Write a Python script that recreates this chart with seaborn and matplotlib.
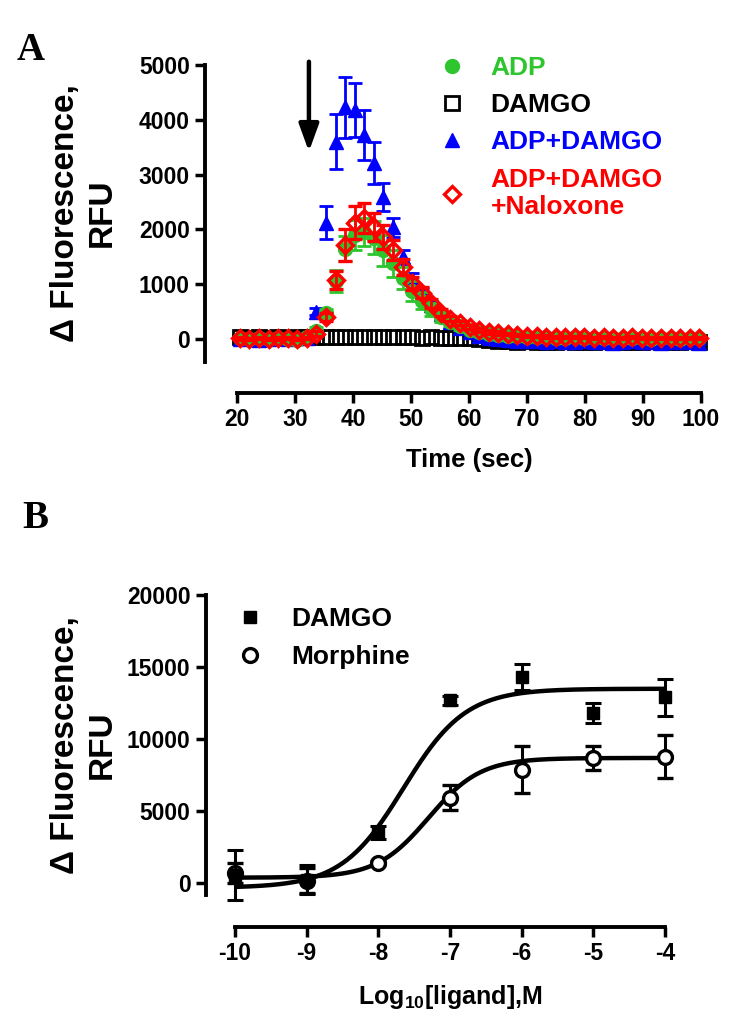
import numpy as np
import matplotlib
matplotlib.use("Agg")
import matplotlib.pyplot as plt
import seaborn as sns
from matplotlib.lines import Line2D

# ---------------- Panel A data (time course) ----------------
time_s = [20.5, 22.15, 23.8, 25.45, 27.1, 28.75, 30.4, 32.05, 33.7, 35.35,
          37.0, 38.65, 40.3, 41.95, 43.6, 45.25, 46.9, 48.55, 50.2, 51.85,
          53.5, 55.15, 56.8, 58.45, 60.1, 61.75, 63.4, 65.05, 66.7, 68.35,
          70.0, 71.65, 73.3, 74.95, 76.6, 78.25, 79.9, 81.55, 83.2, 84.85,
          86.5, 88.15, 89.8, 91.45, 93.1, 94.75, 96.4, 98.05, 99.7]

adp = [10, -5, 15, 0, 20, 5, -10, 30, 150, 470,
       1050, 1650, 1900, 1950, 1850, 1620, 1380, 1120, 880, 700,
       540, 410, 310, 230, 170, 130, 100, 80, 60, 50,
       40, 35, 30, 20, 25, 40, 15, 20, 10, 25,
       15, 10, 20, 5, 15, 10, 5, 10, 15]
adp_err = [20, 20, 20, 20, 20, 20, 20, 20, 60, 80,
           200, 230, 280, 250, 300, 280, 250, 200, 180, 150,
           120, 100, 80, 60, 50, 40, 30, 30, 20, 20,
           20, 20, 20, 20, 20, 20, 20, 20, 20, 20,
           20, 20, 20, 20, 20, 20, 20, 20, 20]

damgo = [30, 20, 35, 25, 30, 20, 35, 30, 40, 45,
         40, 35, 40, 45, 40, 35, 30, 35, 30, 25,
         30, 20, 25, 15, 10, 0, -10, -30, -40, -50,
         -40, -50, -60, -50, -40, -50, -60, -50, -40, -50,
         -50, -60, -50, -40, -50, -60, -50, -40, -50]

adp_damgo = [0, 10, -10, 5, 15, 0, 10, 20, 500, 2120,
             3600, 4230, 4180, 3720, 3210, 2590, 2040, 1500, 1100, 850,
             620, 450, 310, 200, 120, 60, 20, 0, -20, -30,
             -40, -30, -50, -40, -60, -50, -40, -60, -50, -70,
             -50, -40, -60, -50, -70, -60, -50, -60, -70]
adp_damgo_err = [20, 20, 20, 20, 20, 20, 20, 20, 60, 300,
                 500, 560, 500, 460, 380, 260, 170, 130, 100, 80,
                 60, 50, 40, 30, 30, 20, 20, 20, 20, 20,
                 20, 20, 20, 20, 20, 20, 20, 20, 20, 20,
                 20, 20, 20, 20, 20, 20, 20, 20, 20]

adp_damgo_nal = [10, 0, 15, -5, 10, 20, 5, 15, 100, 400,
                 1075, 1715, 2120, 2210, 2040, 1860, 1620, 1310, 1020, 840,
                 650, 480, 370, 290, 220, 165, 130, 110, 90, 70,
                 60, 50, 45, 40, 35, 40, 30, 25, 30, 20,
                 25, 30, 20, 15, 25, 20, 15, 20, 25]
adp_damgo_nal_err = [20, 20, 20, 20, 20, 20, 20, 20, 40, 80,
                     170, 300, 300, 280, 250, 220, 180, 150, 120, 100,
                     80, 60, 50, 40, 30, 30, 30, 30, 20, 20,
                     20, 20, 20, 20, 20, 20, 20, 20, 20, 20,
                     20, 20, 20, 20, 20, 20, 20, 20, 20]

# ---------------- Panel B data (concentration response) ----------------
log_ligand = [-10, -9, -8, -7, -6, -5, -4]
damgo_resp = [560, 250, 3500, 12700, 14300, 11800, 12900]
damgo_resp_err = [1730, 1000, 450, 300, 900, 700, 1300]
morphine_resp = [700, 200, 1400, 5950, 7900, 8700, 8800]
morphine_resp_err = [700, 850, 150, 850, 1600, 850, 1500]

# fitted sigmoid parameters (bottom, top, logEC50, Hill slope)
damgo_fit = (-300, 13500, -7.65, 1.0)
morphine_fit = (400, 8700, -7.3, 1.2)

GREEN = "#2ec52e"
BLUE = "#0000ff"
RED = "#ff0000"
BLACK = "#000000"

sns.set_theme(style="ticks")
plt.rcParams["font.family"] = ["Liberation Sans", "DejaVu Sans"]
plt.rcParams["font.weight"] = "bold"
plt.rcParams["axes.unicode_minus"] = False
plt.rcParams["mathtext.fontset"] = "custom"
plt.rcParams["mathtext.rm"] = "Liberation Sans:bold"
plt.rcParams["mathtext.bf"] = "Liberation Sans:bold"
for key in ["text.color", "axes.labelcolor", "xtick.color", "ytick.color",
            "axes.edgecolor", "xtick.labelcolor", "ytick.labelcolor"]:
    plt.rcParams[key] = "black"

W, H = 750, 1034
fig = plt.figure(figsize=(W / 100, H / 100), dpi=100)


def px_axes(l, t, r, b):
    return fig.add_axes([l / W, 1 - b / H, (r - l) / W, (b - t) / H])


def style_axes(ax, left_off, bottom_off):
    for s in ["top", "right"]:
        ax.spines[s].set_visible(False)
    ax.spines["left"].set_position(("outward", left_off))
    ax.spines["bottom"].set_position(("outward", bottom_off))
    for s in ["left", "bottom"]:
        ax.spines[s].set_linewidth(2.8)
        ax.spines[s].set_color("black")
    ax.tick_params(axis="both", which="major", direction="out", length=7,
                   width=2.5, color="black", labelsize=16.5, pad=4,
                   labelcolor="black")
    for lab in ax.get_xticklabels() + ax.get_yticklabels():
        lab.set_fontweight("bold")
    ax.set_facecolor("white")


# ================= Panel A =================
axA = px_axes(237, 65, 701, 362)

eb_kw = dict(elinewidth=2, capthick=2, capsize=5, ls="none", clip_on=False)
axA.errorbar(time_s, damgo, fmt="s", ms=10, mfc="none", mec=BLACK, mew=2,
             color=BLACK, ls="none", zorder=2, clip_on=False)
axA.errorbar(time_s, adp_damgo, yerr=adp_damgo_err, fmt="^", ms=10,
             color=BLUE, mec=BLUE, zorder=3, **eb_kw)
axA.errorbar(time_s, adp, yerr=adp_err, fmt="o", ms=10, color=GREEN,
             mec=GREEN, zorder=4, **eb_kw)
axA.errorbar(time_s, adp_damgo_nal, yerr=adp_damgo_nal_err, fmt="D", ms=8.5,
             mfc="none", mec=RED, mew=2.4, color=RED, zorder=5, **eb_kw)

axA.set_xlim(20, 100)
axA.set_ylim(-420, 5000)
axA.set_xticks(np.arange(20, 101, 10))
axA.set_yticks(np.arange(0, 5001, 1000))
style_axes(axA, 23, 22.3)

axA.annotate("", xy=(32.4, 3420), xytext=(32.4, 5060),
             arrowprops=dict(arrowstyle="-|>,head_width=0.2,head_length=0.55",
                             lw=3.2, color="black", mutation_scale=30,
                             shrinkA=0, shrinkB=0),
             annotation_clip=False)

handlesA = [
    Line2D([], [], ls="none", marker="o", ms=10, color=GREEN),
    Line2D([], [], ls="none", marker="s", ms=10, mfc="none", mec=BLACK, mew=2),
    Line2D([], [], ls="none", marker="^", ms=10, color=BLUE),
    Line2D([], [], ls="none", marker="D", ms=8.5, mfc="none", mec=RED, mew=2.4),
]
labelsA = ["ADP", "DAMGO", "ADP+DAMGO", "ADP+DAMGO\n+Naloxone"]
legA = axA.legend(handlesA, labelsA, loc="upper left",
                  bbox_to_anchor=(439 / W, 1 - 56 / H),
                  bbox_transform=fig.transFigure, frameon=False,
                  prop=dict(weight="bold", size=19), handlelength=1.0,
                  handletextpad=0.95, labelspacing=0.5, borderpad=0,
                  borderaxespad=0)
for t, c in zip(legA.get_texts(), [GREEN, BLACK, BLUE, RED]):
    t.set_color(c)

# ================= Panel B =================
axB = px_axes(235, 595, 665, 895)


def hill(x, p):
    bottom, top, logec50, h = p
    return bottom + (top - bottom) / (1 + 10 ** ((logec50 - x) * h))


xs = np.linspace(-10, -4, 300)
sns.lineplot(x=xs, y=hill(xs, damgo_fit), ax=axB, color="black", lw=3.2,
             zorder=2)
sns.lineplot(x=xs, y=hill(xs, morphine_fit), ax=axB, color="black", lw=3.2,
             zorder=2)
axB.errorbar(log_ligand, morphine_resp, yerr=morphine_resp_err, fmt="o",
             ms=10, mfc="white", mec="black", mew=2.4, color="black",
             elinewidth=2.2, capthick=2.2, capsize=6, zorder=3, clip_on=False)
axB.errorbar(log_ligand, damgo_resp, yerr=damgo_resp_err, fmt="s", ms=9,
             color="black", elinewidth=2.2, capthick=2.2, capsize=6, zorder=4,
             clip_on=False)

axB.set_xlim(-10, -4)
axB.set_ylim(-800, 20000)
axB.set_xticks(log_ligand)
axB.set_yticks(np.arange(0, 20001, 5000))
style_axes(axB, 21, 23)

handlesB = [
    Line2D([], [], ls="none", marker="s", ms=9, color="black"),
    Line2D([], [], ls="none", marker="o", ms=10, mfc="white", mec="black",
           mew=2.4),
]
legB = axB.legend(handlesB, ["DAMGO", "Morphine"], loc="upper left",
                  bbox_to_anchor=(237 / W, 1 - 607 / H),
                  bbox_transform=fig.transFigure, frameon=False,
                  prop=dict(weight="bold", size=19), handlelength=1.0,
                  handletextpad=1.04, labelspacing=0.54, borderpad=0,
                  borderaxespad=0)

# ================= Labels =================
ylab = "\u0394 Fluorescence,\nRFU"
fig.text(84 / W, 1 - 213 / H, ylab, rotation=90, ha="center", va="center",
         multialignment="center", fontsize=24, fontweight="bold",
         linespacing=1.25)
fig.text(84 / W, 1 - 745 / H, ylab, rotation=90, ha="center", va="center",
         multialignment="center", fontsize=24, fontweight="bold",
         linespacing=1.25)

fig.text(469 / W, 1 - 460 / H, "Time (sec)", ha="center", va="center",
         fontsize=18.5, fontweight="bold")
fig.text(450 / W, 1 - 997 / H, r"Log$_{\mathbf{10}}$[ligand],M", ha="center",
         va="center", fontsize=18, fontweight="bold")

fig.text(17 / W, 1 - 60 / H, "A", fontfamily=["Liberation Serif"],
         fontweight="bold", fontsize=28, va="baseline", ha="left")
fig.text(22 / W, 1 - 528 / H, "B", fontfamily=["Liberation Serif"],
         fontweight="bold", fontsize=28, va="baseline", ha="left")

fig.savefig("out.png", dpi=100, facecolor="white")
